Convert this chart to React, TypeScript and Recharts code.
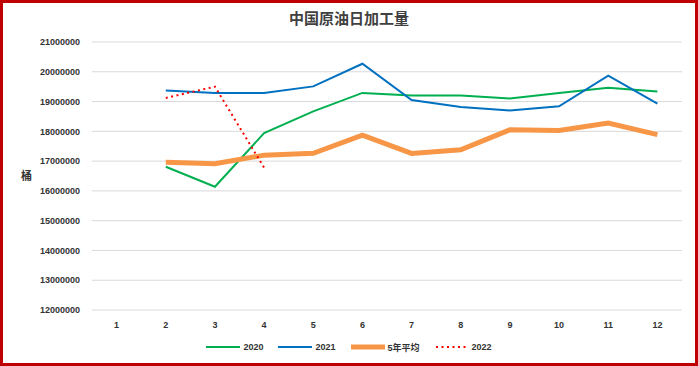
import { LineChart, Line, XAxis, YAxis, CartesianGrid, Legend } from "recharts"

const MONTHS = ["1", "2", "3", "4", "5", "6", "7", "8", "9", "10", "11", "12"]

const Y2020 = [null, 16810000, 16140000, 17940000, 18670000, 19290000, 19200000, 19200000, 19100000, 19290000, 19460000, 19340000]
const Y2021 = [null, 19370000, 19290000, 19290000, 19510000, 20270000, 19050000, 18820000, 18700000, 18840000, 19870000, 18930000]
const AVG5 = [null, 16960000, 16910000, 17200000, 17260000, 17870000, 17260000, 17380000, 18050000, 18030000, 18280000, 17890000]
const Y2022 = [null, 19120000, 19500000, 16780000, null, null, null, null, null, null, null, null]

const Y_TICKS = [12000000, 13000000, 14000000, 15000000, 16000000, 17000000, 18000000, 19000000, 20000000, 21000000]

const SERIES = [
  { key: "y2020", name: "2020", color: "#00B050", width: 2, dash: undefined },
  { key: "y2021", name: "2021", color: "#0070C0", width: 2, dash: undefined },
  { key: "avg5", name: "5年平均", color: "#F79646", width: 5, dash: undefined },
  { key: "y2022", name: "2022", color: "#FF0000", width: 2, dash: "2 3.5" },
]

const data = MONTHS.map((m, i) => ({
  month: m,
  y2020: Y2020[i],
  y2021: Y2021[i],
  avg5: AVG5[i],
  y2022: Y2022[i],
}))

const TEXT = "#333333"
const FONT = "'Liberation Sans', 'Noto Sans CJK SC', sans-serif"

function LegendContent() {
  return (
    <div
      style={{
        display: "flex",
        justifyContent: "center",
        alignItems: "center",
        gap: 15,
        height: 14,
        fontSize: 9,
        fontWeight: 700,
        color: TEXT,
        fontFamily: FONT,
      }}
    >
      {SERIES.map((s) => (
        <div key={s.key} style={{ display: "flex", alignItems: "center", gap: 3 }}>
          <svg width={34} height={8}>
            <line
              x1={s.dash ? 1 : 0}
              y1={4}
              x2={34}
              y2={4}
              stroke={s.color}
              strokeWidth={s.width}
              strokeDasharray={s.dash}
              strokeLinecap={s.dash ? "butt" : "round"}
            />
          </svg>
          <span>{s.name}</span>
        </div>
      ))}
    </div>
  )
}

export default function App() {
  return (
    <div style={{ position: "absolute", left: 0, top: 0, width: 698, height: 366, background: "#fff", fontFamily: FONT }}>
      <div
        style={{
          position: "absolute",
          left: 0,
          top: 0,
          width: 698,
          height: 366,
          boxSizing: "border-box",
          border: "3px solid #C00000",
          pointerEvents: "none",
          zIndex: 2,
        }}
      />
      <div
        style={{
          position: "absolute",
          left: 0,
          top: 9,
          width: 698,
          textAlign: "center",
          fontSize: 15,
          fontWeight: 700,
          color: "#404040",
          fontFamily: "'Noto Sans CJK SC', sans-serif",
          lineHeight: "18px",
        }}
      >
        中国原油日加工量
      </div>
      <div style={{ position: "absolute", left: 0, top: 0 }}>
        <LineChart width={698} height={366} data={data} margin={{ top: 42, right: 16, left: 32, bottom: 12 }}>
          <CartesianGrid vertical={false} stroke="#D9D9D9" strokeWidth={1} />
          <XAxis
            dataKey="month"
            axisLine={false}
            tickLine={false}
            height={30}
            padding={{ left: 24.6, right: 24.6 }}
            tick={{ fontSize: 9, fill: TEXT, fontWeight: 700 }}
            tickMargin={6}
          />
          <YAxis
            domain={[12000000, 21000000]}
            ticks={Y_TICKS}
            interval={0}
            axisLine={false}
            tickLine={false}
            width={60}
            tickMargin={6}
            tick={{ fontSize: 9, fill: TEXT, fontWeight: 700 }}
            label={{ value: "桶", position: "insideLeft", offset: -11, angle: 0, fontSize: 11, fill: TEXT, fontWeight: 700 }}
          />
          <Legend
            verticalAlign="bottom"
            content={<LegendContent />}
            wrapperStyle={{ left: 0, width: 698 }}
          />
          {SERIES.map((s) => (
            <Line
              key={s.key}
              type="linear"
              dataKey={s.key}
              name={s.name}
              stroke={s.color}
              strokeWidth={s.width}
              strokeDasharray={s.dash}
              strokeLinecap="butt"
              dot={false}
              activeDot={false}
              connectNulls={false}
              isAnimationActive={false}
            />
          ))}
        </LineChart>
      </div>
    </div>
  )
}
